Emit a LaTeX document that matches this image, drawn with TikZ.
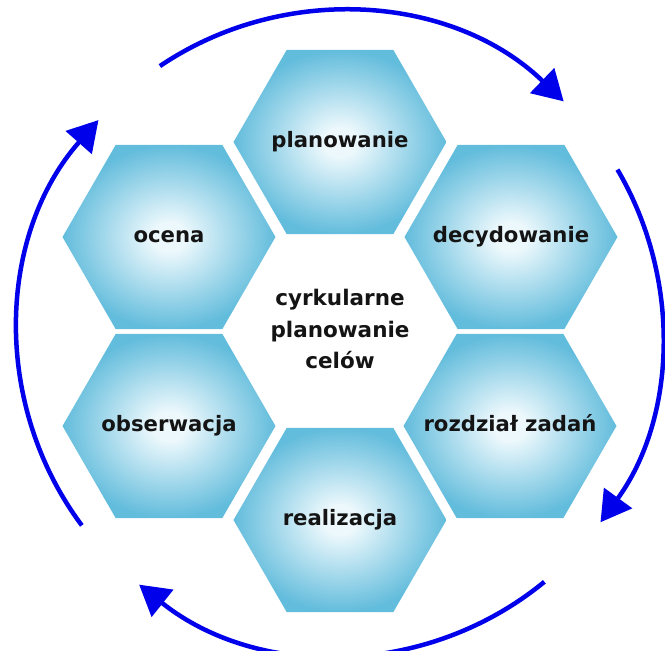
\documentclass[tikz,border=0pt]{standalone}
\usepackage{fontspec}
\setmainfont{DejaVu Sans}
\usetikzlibrary{shapes.geometric,arrows.meta,calc}
\definecolor{hexin}{RGB}{236,248,252}
\definecolor{hexout}{RGB}{98,188,220}
\definecolor{arcblue}{RGB}{0,0,235}
\definecolor{txt}{RGB}{20,20,20}
\pgfdeclareradialshading{hexshade}{\pgfpoint{0bp}{0bp}}{color(0bp)=(hexin); color(4bp)=(hexin); color(25bp)=(hexout); color(50bp)=(hexout)}
\newcommand{\hx}[1]{\makebox[0pt][c]{#1}}
\begin{document}
\begin{tikzpicture}[x=1pt,y=-1pt,
  hexbox/.style={regular polygon, regular polygon sides=6, minimum size=213pt,
    inner sep=0pt, shading=hexshade, text=txt, text height=15pt, text depth=4.5pt,
    font=\fontsize{21.2}{25}\selectfont\bfseries},
  midtext/.style={align=center, text=txt, inner sep=0pt,
    font=\fontsize{21.5}{31.5}\selectfont\bfseries},
  cyc/.style={draw=arcblue, line width=4.5pt, -{Triangle[length=30pt,width=34pt]}}]
\useasboundingbox (0,0) rectangle (665,651);
\node[hexbox] (plan) at (340,142) {\hx{planowanie}};
\node[hexbox] (dec)  at (511,237) {\hx{decydowanie}};
\node[hexbox] (roz)  at (510,426) {\hx{rozdział zadań}};
\node[hexbox] (real) at (340,520) {\hx{realizacja}};
\node[hexbox] (obs)  at (169,426) {\hx{obserwacja}};
\node[hexbox] (oce)  at (169,237) {\hx{ocena}};
\node[midtext] (mid) at (340,329) {cyrkularne\\planowanie\\celów};
\coordinate (c) at (340,333);
\draw[cyc] ($(c)+(124:322pt)$) arc[start angle=124, end angle=46, radius=322pt];
\draw[cyc] ($(c)+(30.5:322pt)$) arc[start angle=30.5, end angle=-36, radius=322pt];
\draw[cyc] ($(c)+(-50.6:322pt)$) arc[start angle=-50.6, end angle=-128.6, radius=322pt];
\draw[cyc] ($(c)+(216.7:322pt)$) arc[start angle=216.7, end angle=138.6, radius=322pt];
\end{tikzpicture}
\end{document}
